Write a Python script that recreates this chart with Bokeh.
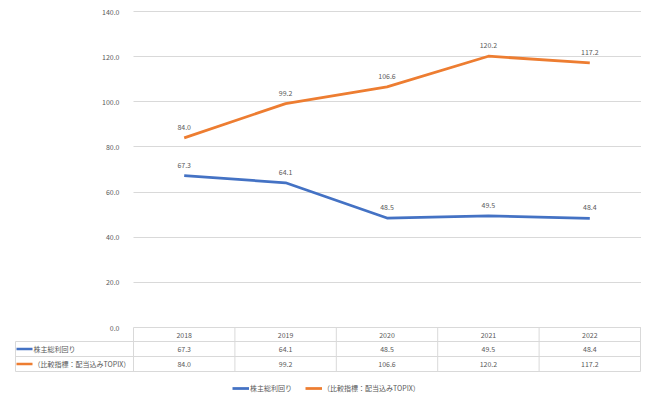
from bokeh.plotting import figure
from bokeh.models import Range1d, FixedTicker, NumeralTickFormatter, Legend, LegendItem
from bokeh.core.properties import value
from bokeh.embed import file_html
from bokeh.resources import INLINE

# ---- data ----
years = ["2018", "2019", "2020", "2021", "2022"]
tsr = [67.3, 64.1, 48.5, 49.5, 48.4]
topix = [84.0, 99.2, 106.6, 120.2, 117.2]
series_names = ["株主総利回り", "（比較指標：配当込みTOPIX）"]
y_ticks = [0, 20, 40, 60, 80, 100, 120, 140]

# ---- style / layout constants (pixels) ----
FONT = "Noto Sans CJK JP"
TXT = "#595959"
GRID = "#D9D9D9"
BLUE = "#4472C4"
ORANGE = "#ED7D31"
FS = "7px"
W, H = 641, 396
PLOT_L = 133            # left edge of plot area
FRAME_L = 14            # left edge of frame (table starts 1px to the right)
TOP_LINE = 11           # y of the 140 grid line
FRAME_T = 5             # frame top (a little above the top grid line)
COLW = 101.4            # px per category column
PPU = 316 / 140.0       # px per value unit
BELOW = (H - 1 - TOP_LINE) - 316   # px below the 0 line inside the frame

def px_x(px):   # page px -> data x
    return (px - PLOT_L) / COLW

def px_y(px):   # px below the zero line -> data y
    return -px / PPU

xs = [i + 0.5 for i in range(len(years))]
col_edges = list(range(len(years) + 1))
fmt = lambda v: f"{v:.1f}"

p = figure(width=W, height=H,
           x_range=Range1d(px_x(FRAME_L), px_x(W)),
           y_range=Range1d(px_y(BELOW), 140 + (TOP_LINE - FRAME_T) / PPU),
           x_axis_location=None, output_backend="svg", toolbar_location=None,
           min_border_left=FRAME_L, min_border_right=0, min_border_top=FRAME_T,
           min_border_bottom=1)
p.outline_line_color = None
p.xgrid.visible = False
p.ygrid.grid_line_color = GRID
p.ygrid.grid_line_width = 1
p.ygrid.cross_bounds = (0, px_x(W))

ya = p.yaxis[0]
ya.ticker = FixedTicker(ticks=y_ticks)
ya.formatter = NumeralTickFormatter(format="0.0")
ya.fixed_location = 0
ya.bounds = (0, 140)
ya.axis_line_color = None
ya.major_tick_line_color = None
ya.minor_tick_line_color = None
ya.major_label_text_font = FONT
ya.major_label_text_font_size = FS
ya.major_label_text_color = TXT
ya.major_label_standoff = 8

# ---- lines + data labels ----
r_topix = p.line(xs, topix, line_color=ORANGE, line_width=2.75, line_join="round")
r_tsr = p.line(xs, tsr, line_color=BLUE, line_width=2.75, line_join="round")
for vals in (tsr, topix):
    p.text(xs, vals, text=[fmt(v) for v in vals], y_offset=-11,
           text_align="center", text_baseline="middle",
           text_font=value(FONT), text_font_size=FS, text_color=TXT)

# ---- data table ----
ROW_PX = [0, 14, 29, 44]          # row boundaries (px below zero line)
LEFT = px_x(15)
hy = [px_y(v) for v in ROW_PX[1:]]
p.segment(x0=[LEFT] * len(hy), y0=hy, x1=[5] * len(hy), y1=hy, line_color=GRID, line_width=1)
p.segment(x0=col_edges, y0=[0] * len(col_edges), x1=col_edges,
          y1=[px_y(ROW_PX[-1])] * len(col_edges), line_color=GRID, line_width=1)
p.segment(x0=[LEFT], y0=[px_y(ROW_PX[1])], x1=[LEFT], y1=[px_y(ROW_PX[-1])],
          line_color=GRID, line_width=1)

row_mid = [px_y((ROW_PX[i] + ROW_PX[i + 1]) / 2) for i in range(3)]
p.text(xs, [row_mid[0]] * len(xs), text=years, text_align="center", text_baseline="middle",
       text_font=value(FONT), text_font_size=FS, text_color=TXT)
for ry, vals in zip(row_mid[1:], (tsr, topix)):
    p.text(xs, [ry] * len(xs), text=[fmt(v) for v in vals], text_align="center",
           text_baseline="middle", text_font=value(FONT), text_font_size=FS, text_color=TXT)

p.segment(x0=[px_x(16)] * 2, y0=row_mid[1:], x1=[px_x(32)] * 2, y1=row_mid[1:],
          line_color=[BLUE, ORANGE], line_width=2.5)
p.text([px_x(33)] * 2, row_mid[1:], text=series_names, text_align="left",
       text_baseline="middle", text_font=value(FONT), text_font_size=FS, text_color=TXT)

# ---- legend under the table ----
legend = Legend(items=[LegendItem(label=series_names[0], renderers=[r_tsr]),
                       LegendItem(label=series_names[1], renderers=[r_topix])],
                orientation="horizontal", location=(232 - FRAME_L, 2),
                padding=0, margin=0, spacing=13, glyph_width=17, glyph_height=10,
                label_height=10, label_standoff=1, border_line_color=None,
                background_fill_alpha=0, label_text_font=FONT, label_text_font_size=FS,
                label_text_color=TXT)
p.add_layout(legend)

open("out.html", "w").write(file_html(p, INLINE))
